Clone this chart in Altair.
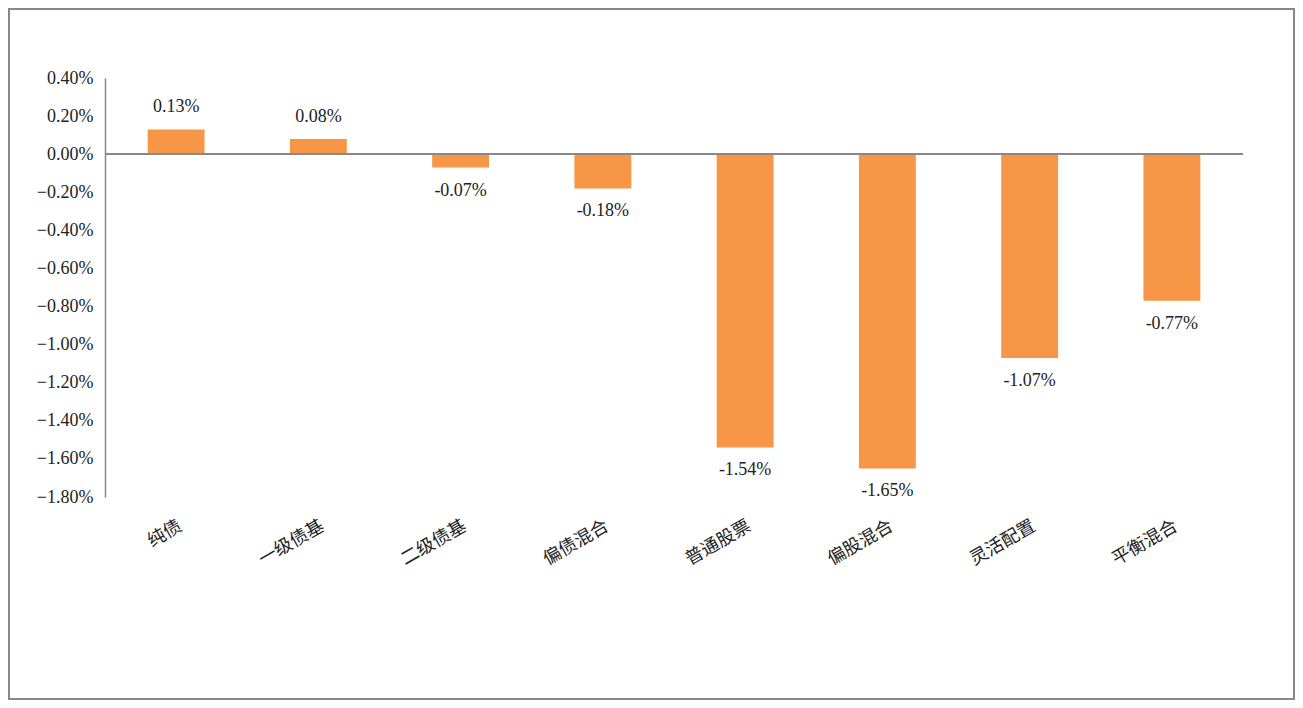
import altair as alt
import pandas as pd

categories = ["纯债", "一级债基", "二级债基", "偏债混合", "普通股票", "偏股混合", "灵活配置", "平衡混合"]
values = [0.13, 0.08, -0.07, -0.18, -1.54, -1.65, -1.07, -0.77]
y_ticks = [0.4, 0.2, 0.0, -0.2, -0.4, -0.6, -0.8, -1.0, -1.2, -1.4, -1.6, -1.8]

df = pd.DataFrame({"cat": categories, "val": values})
df["label"] = [f"{v:.2f}%" for v in values]

FONT = "Liberation Serif, Noto Sans CJK SC"
W, H = 1138, 419
PL, PT, PR, PB = 97, 70, 52, 203

x = alt.X("cat:N", sort=categories, title=None,
          scale=alt.Scale(paddingInner=0.6, paddingOuter=0.3),
          axis=alt.Axis(labelAngle=330, labelAlign="right", labelBaseline="top",
                        labelPadding=20, ticks=False, domain=False, labelOverlap=False,
                        labelFontSize=18, labelFont=FONT, labelColor="#222"))
y = alt.Y("val:Q", title=None,
          scale=alt.Scale(domain=[-1.8, 0.4], nice=False, zero=False),
          axis=alt.Axis(values=y_ticks, tickCount=30,
                        labelExpr="format(datum.value, '.2f') + '%'",
                        ticks=False, grid=False, domainColor="#888", domainWidth=1.5,
                        labelOverlap=False, labelFlush=False, labelBound=False,
                        labelPadding=12, labelFontSize=18, labelFont=FONT, labelColor="#222"))

base = alt.Chart(df)
bars = base.mark_bar(color="#F79646").encode(x=x, y=y, y2=alt.datum(0))
zero = base.mark_rule(color="#888", strokeWidth=1.5).encode(
    y=alt.datum(0), x=alt.value(0), x2=alt.value(W))
pos = base.transform_filter("datum.val >= 0").mark_text(
    dy=-22, font=FONT, fontSize=18, color="#222", baseline="middle").encode(
    x=x, y=y, text="label:N")
neg = base.transform_filter("datum.val < 0").mark_text(
    dy=23, font=FONT, fontSize=18, color="#222", baseline="middle").encode(
    x=x, y=y, text="label:N")
border = base.mark_rect(fill=None, stroke="#888", strokeWidth=1.5, clip=False).encode(
    x=alt.value(-PL + 1), x2=alt.value(W + PR - 1),
    y=alt.value(-PT + 1), y2=alt.value(H + PB - 1))

chart = alt.layer(bars, zero, pos, neg, border).properties(
    width=W, height=H,
    autosize=alt.AutoSizeParams(type="none"),
    padding={"left": PL, "top": PT, "right": PR, "bottom": PB},
    background="white",
).configure_view(stroke=None).configure_axis(labelOverlap=False)

chart.save("out.html", embed_options={"renderer": "svg", "actions": False})
